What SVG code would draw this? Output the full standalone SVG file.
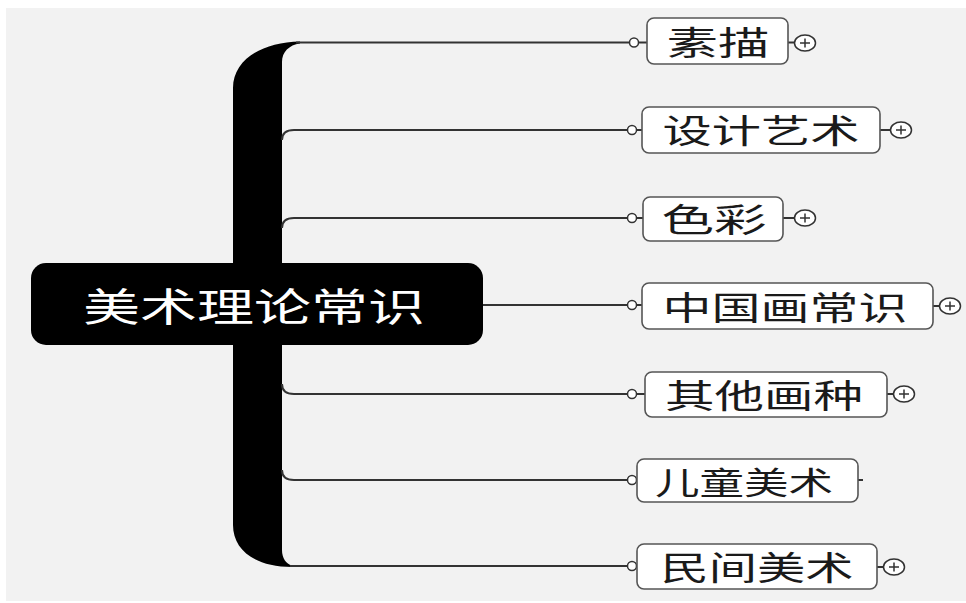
<svg xmlns="http://www.w3.org/2000/svg" width="966" height="603" viewBox="0 0 966 603">
<style>
.bg{fill:#f2f2f2}
.node rect{fill:#fff;stroke:#555;stroke-width:1.6}
.t{font-family:"Noto Sans CJK SC","Noto Sans CJK JP",sans-serif;fill:#1a1a1a;text-anchor:middle;dominant-baseline:central}
.conn path,.conn line{fill:none;stroke:#333;stroke-width:2}
.dot{fill:#fff;stroke:#333;stroke-width:1.5}
.plus ellipse{fill:#fff;stroke:#333;stroke-width:1.5}
.plus path{stroke:#333;stroke-width:1.5;fill:none}
</style>
<rect width="966" height="603" fill="#fff"/>
<rect class="bg" x="6" y="8" width="960" height="593"/>

<g id="connectors" class="conn">
  <path d="M300,41.5 C262,42 233,60 233,88 L233,525 C233,550 255,567 292,567 L292,565.5 C286,564 282,558 282,550 L282,62 C282,52 289,45 300,43.5 Z" style="fill:#000;stroke:none"/>
  <line x1="296" y1="42.5" x2="632" y2="42.5"/>
  <path d="M282,140 Q282,130 294,130 L628,130"/>
  <path d="M282,228 Q282,218 294,218 L628,218"/>
  <line x1="483" y1="305" x2="628" y2="305"/>
  <path d="M282,384 Q282,394 294,394 L628,394"/>
  <path d="M282,470 Q282,480 294,480 L628,480"/>
  <line x1="290" y1="566" x2="628" y2="566"/>
  <line x1="638" y1="42.5" x2="648" y2="42.5"/>
  <line x1="637" y1="130" x2="643" y2="130"/>
  <line x1="637" y1="218" x2="644" y2="218"/>
  <line x1="637" y1="305" x2="643" y2="305"/>
  <line x1="637" y1="394" x2="646" y2="394"/>
  <line x1="637" y1="480" x2="638" y2="480"/>
  <line x1="637" y1="566" x2="638" y2="566"/>
  <line x1="788" y1="42.5" x2="795" y2="42.5"/>
  <line x1="880" y1="130" x2="891" y2="130"/>
  <line x1="783" y1="218" x2="795" y2="218"/>
  <line x1="933" y1="306" x2="940" y2="306"/>
  <line x1="887" y1="394" x2="894" y2="394"/>
  <line x1="858" y1="480" x2="863" y2="480"/>
  <line x1="877" y1="567" x2="884" y2="567"/>
  <circle class="dot" cx="634" cy="42.5" r="4.5"/>
  <circle class="dot" cx="632" cy="130" r="4.5"/>
  <circle class="dot" cx="632" cy="218" r="4.5"/>
  <circle class="dot" cx="632" cy="305" r="4.5"/>
  <circle class="dot" cx="632" cy="394" r="4.5"/>
  <circle class="dot" cx="632" cy="480" r="4.5"/>
  <circle class="dot" cx="632" cy="566" r="4.5"/>
</g>

<g id="root">
  <rect x="31" y="263" width="452" height="82" rx="15" fill="#000"/>
  <text class="t" x="254" y="304" font-size="39" textLength="342" lengthAdjust="spacingAndGlyphs" style="fill:#fff">美术理论常识</text>
</g>

<g id="n1" class="node">
  <rect x="647" y="18" width="141" height="46" rx="7"/>
  <text class="t" x="718" y="41" font-size="33" textLength="103" lengthAdjust="spacingAndGlyphs">素描</text>
  <g class="plus"><ellipse cx="805" cy="43" rx="10.5" ry="8"/><path d="M800,43 H810 M805,38.5 V47.5"/></g>
</g>
<g id="n2" class="node">
  <rect x="642" y="107" width="238" height="46" rx="7"/>
  <text class="t" x="761" y="129" font-size="33" textLength="197" lengthAdjust="spacingAndGlyphs">设计艺术</text>
  <g class="plus"><ellipse cx="901" cy="130" rx="10.5" ry="8"/><path d="M896,130 H906 M901,125.5 V134.5"/></g>
</g>
<g id="n3" class="node">
  <rect x="643" y="197" width="140" height="44" rx="7"/>
  <text class="t" x="714" y="218" font-size="33" textLength="105" lengthAdjust="spacingAndGlyphs">色彩</text>
  <g class="plus"><ellipse cx="805" cy="218" rx="10.5" ry="8"/><path d="M800,218 H810 M805,213.5 V222.5"/></g>
</g>
<g id="n4" class="node">
  <rect x="642" y="283" width="291" height="46" rx="7"/>
  <text class="t" x="785" y="306" font-size="33" textLength="245" lengthAdjust="spacingAndGlyphs">中国画常识</text>
  <g class="plus"><ellipse cx="950" cy="306" rx="10.5" ry="8"/><path d="M945,306 H955 M950,301.5 V310.5"/></g>
</g>
<g id="n5" class="node">
  <rect x="645" y="372" width="242" height="45" rx="7"/>
  <text class="t" x="764" y="394" font-size="33" textLength="198" lengthAdjust="spacingAndGlyphs">其他画种</text>
  <g class="plus"><ellipse cx="904" cy="394" rx="10.5" ry="8"/><path d="M899,394 H909 M904,389.5 V398.5"/></g>
</g>
<g id="n6" class="node">
  <rect x="637" y="459" width="221" height="43" rx="7"/>
  <text class="t" x="744" y="480" font-size="31" textLength="178" lengthAdjust="spacingAndGlyphs">儿童美术</text>
</g>
<g id="n7" class="node">
  <rect x="637" y="544" width="240" height="45" rx="7"/>
  <text class="t" x="757" y="566" font-size="33" textLength="193" lengthAdjust="spacingAndGlyphs">民间美术</text>
  <g class="plus"><ellipse cx="894" cy="567" rx="10.5" ry="8"/><path d="M889,567 H899 M894,562.5 V571.5"/></g>
</g>
</svg>
